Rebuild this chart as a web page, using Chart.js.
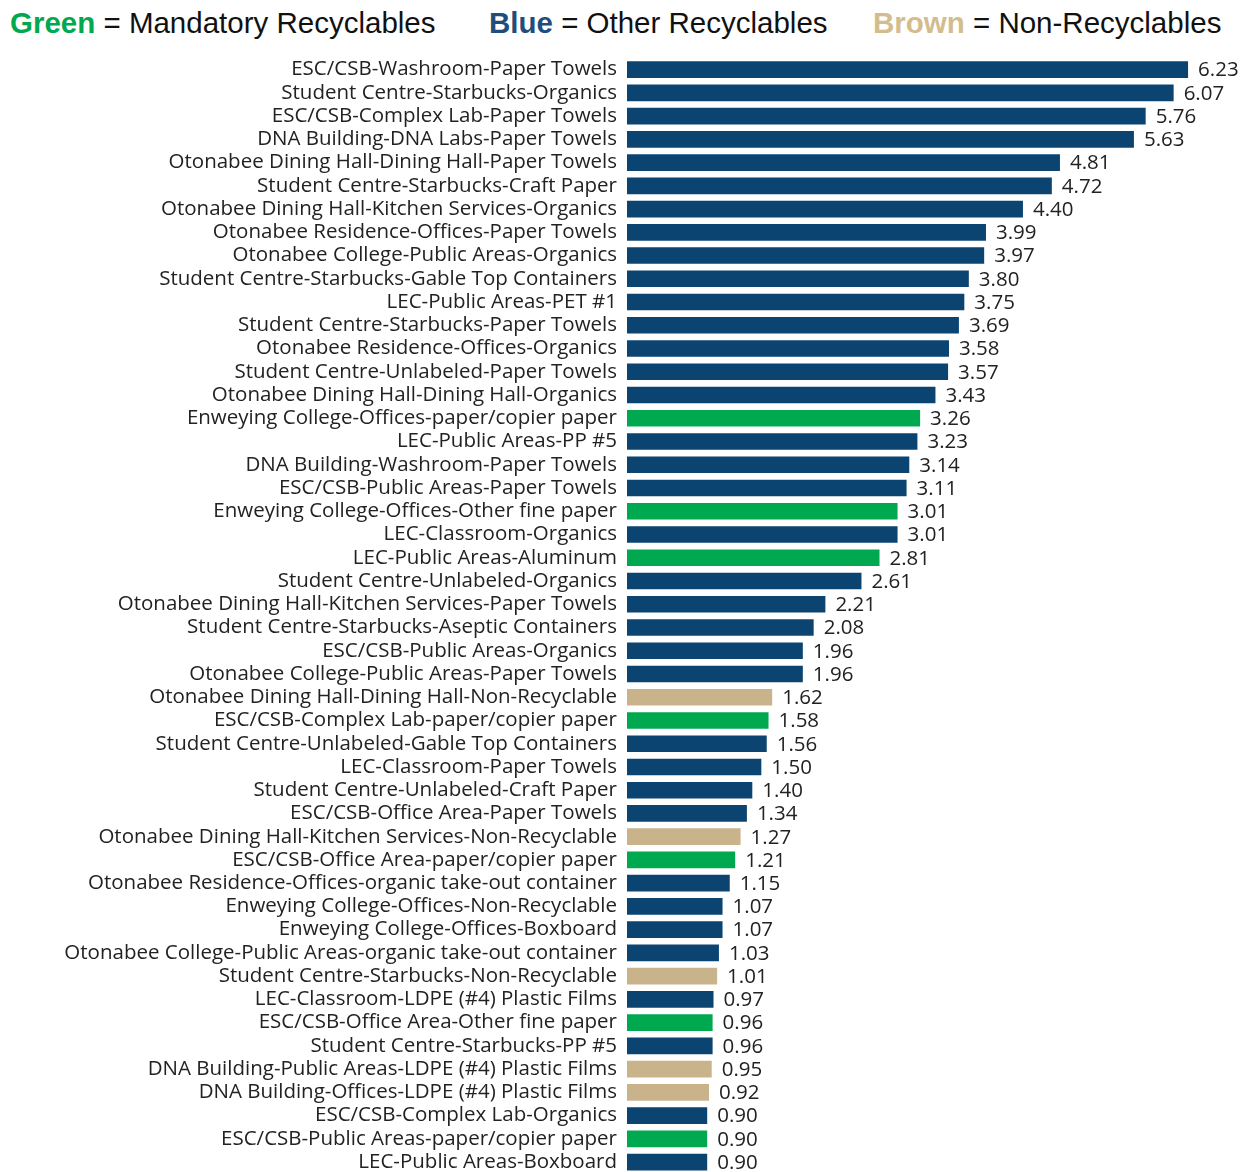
<!DOCTYPE html>
<html>
<head>
<meta charset="utf-8">
<script src="https://cdn.jsdelivr.net/npm/chart.js@4.4.1/dist/chart.umd.min.js"></script>
<style>
  html, body { margin: 0; padding: 0; background: #fff; overflow: hidden; }
  #wrap { position: relative; width: 1245px; height: 1172px; overflow: hidden; }
  #legend { position: absolute; top: 6px; left: 10px; width: 1235px; height: 44px;
    font-family: "Liberation Sans", Arial, sans-serif; font-size: 29.5px; color: #111; white-space: nowrap; }
  #legend span.item { position: absolute; top: 0; }
  #legend b { font-weight: bold; }
  #box { position: absolute; left: 0; top: 0; width: 1245px; height: 1196px; }
</style>
</head>
<body>
<div id="wrap">
  <div id="legend">
    <span class="item" style="left:0px"><b style="color:#00a84f">Green</b> = Mandatory Recyclables</span>
    <span class="item" style="left:479px"><b style="color:#1f4e7d">Blue</b> = Other Recyclables</span>
    <span class="item" style="left:863px"><b style="color:#d3bd8f">Brown</b> = Non-Recyclables</span>
  </div>
  <div id="box"><canvas id="barChart"></canvas></div>
</div>
<script>
const labels = [
  'ESC/CSB-Washroom-Paper Towels',
  'Student Centre-Starbucks-Organics',
  'ESC/CSB-Complex Lab-Paper Towels',
  'DNA Building-DNA Labs-Paper Towels',
  'Otonabee Dining Hall-Dining Hall-Paper Towels',
  'Student Centre-Starbucks-Craft Paper',
  'Otonabee Dining Hall-Kitchen Services-Organics',
  'Otonabee Residence-Offices-Paper Towels',
  'Otonabee College-Public Areas-Organics',
  'Student Centre-Starbucks-Gable Top Containers',
  'LEC-Public Areas-PET #1',
  'Student Centre-Starbucks-Paper Towels',
  'Otonabee Residence-Offices-Organics',
  'Student Centre-Unlabeled-Paper Towels',
  'Otonabee Dining Hall-Dining Hall-Organics',
  'Enweying College-Offices-paper/copier paper',
  'LEC-Public Areas-PP #5',
  'DNA Building-Washroom-Paper Towels',
  'ESC/CSB-Public Areas-Paper Towels',
  'Enweying College-Offices-Other fine paper',
  'LEC-Classroom-Organics',
  'LEC-Public Areas-Aluminum',
  'Student Centre-Unlabeled-Organics',
  'Otonabee Dining Hall-Kitchen Services-Paper Towels',
  'Student Centre-Starbucks-Aseptic Containers',
  'ESC/CSB-Public Areas-Organics',
  'Otonabee College-Public Areas-Paper Towels',
  'Otonabee Dining Hall-Dining Hall-Non-Recyclable',
  'ESC/CSB-Complex Lab-paper/copier paper',
  'Student Centre-Unlabeled-Gable Top Containers',
  'LEC-Classroom-Paper Towels',
  'Student Centre-Unlabeled-Craft Paper',
  'ESC/CSB-Office Area-Paper Towels',
  'Otonabee Dining Hall-Kitchen Services-Non-Recyclable',
  'ESC/CSB-Office Area-paper/copier paper',
  'Otonabee Residence-Offices-organic take-out container',
  'Enweying College-Offices-Non-Recyclable',
  'Enweying College-Offices-Boxboard',
  'Otonabee College-Public Areas-organic take-out container',
  'Student Centre-Starbucks-Non-Recyclable',
  'LEC-Classroom-LDPE (#4) Plastic Films',
  'ESC/CSB-Office Area-Other fine paper',
  'Student Centre-Starbucks-PP #5',
  'DNA Building-Public Areas-LDPE (#4) Plastic Films',
  'DNA Building-Offices-LDPE (#4) Plastic Films',
  'ESC/CSB-Complex Lab-Organics',
  'ESC/CSB-Public Areas-paper/copier paper',
  'LEC-Public Areas-Boxboard'
];

const values = [
  6.23, 6.07, 5.76, 5.63, 4.81, 4.72, 4.40, 3.99, 3.97, 3.80,
  3.75, 3.69, 3.58, 3.57, 3.43, 3.26, 3.23, 3.14, 3.11, 3.01,
  3.01, 2.81, 2.61, 2.21, 2.08, 1.96, 1.96, 1.62, 1.58, 1.56,
  1.50, 1.40, 1.34, 1.27, 1.21, 1.15, 1.07, 1.07, 1.03, 1.01,
  0.97, 0.96, 0.96, 0.95, 0.92, 0.90, 0.90, 0.90
];

// G = mandatory recyclables, B = other recyclables, N = non-recyclables
const groups = [
  'B','B','B','B','B','B','B','B','B','B',
  'B','B','B','B','B','G','B','B','B','G',
  'B','G','B','B','B','B','B','N','G','B',
  'B','B','B','N','G','B','B','B','B','N',
  'B','G','B','N','N','B','G','B'
];

const groupColors = { G: '#00a84f', B: '#0b4470', N: '#c9b38a' };

const fontFamily = '"Segoe UI", "Open Sans", "Noto Sans", sans-serif';

// value text at the end of each bar
const valueLabels = {
  id: 'valueLabels',
  afterDatasetsDraw(chart) {
    const ctx = chart.ctx;
    const meta = chart.getDatasetMeta(0);
    ctx.save();
    ctx.font = '20.5px ' + fontFamily;
    ctx.fillStyle = '#222';
    ctx.textAlign = 'left';
    ctx.textBaseline = 'middle';
    meta.data.forEach((bar, i) => {
      ctx.fillText(values[i].toFixed(2), bar.x + 9, bar.y + 1);
    });
    ctx.restore();
  }
};

const ctx = document.getElementById('barChart').getContext('2d');
new Chart(ctx, {
  type: 'bar',
  data: {
    labels: labels,
    datasets: [{
      data: values,
      backgroundColor: groups.map(g => groupColors[g]),
      borderColor: 'rgba(255,255,255,0.55)',
      borderWidth: 1,
      barPercentage: 0.8,
      categoryPercentage: 1.0
    }]
  },
  options: {
    indexAxis: 'y',
    responsive: true,
    maintainAspectRatio: false,
    animation: false,
    layout: { padding: { top: 58, right: 0, bottom: 0, left: 0 } },
    plugins: {
      legend: { display: false },
      tooltip: { enabled: false }
    },
    scales: {
      x: {
        display: false,
        min: 0,
        max: 6.85
      },
      y: {
        afterFit(scale) { scale.width = 627; },
        grid: { display: false, drawTicks: false },
        border: { display: false },
        ticks: {
          color: '#222',
          padding: 10,
          autoSkip: false,
          font: { family: fontFamily, size: 20.5 }
        }
      }
    }
  },
  plugins: [valueLabels]
});
</script>
</body>
</html>
